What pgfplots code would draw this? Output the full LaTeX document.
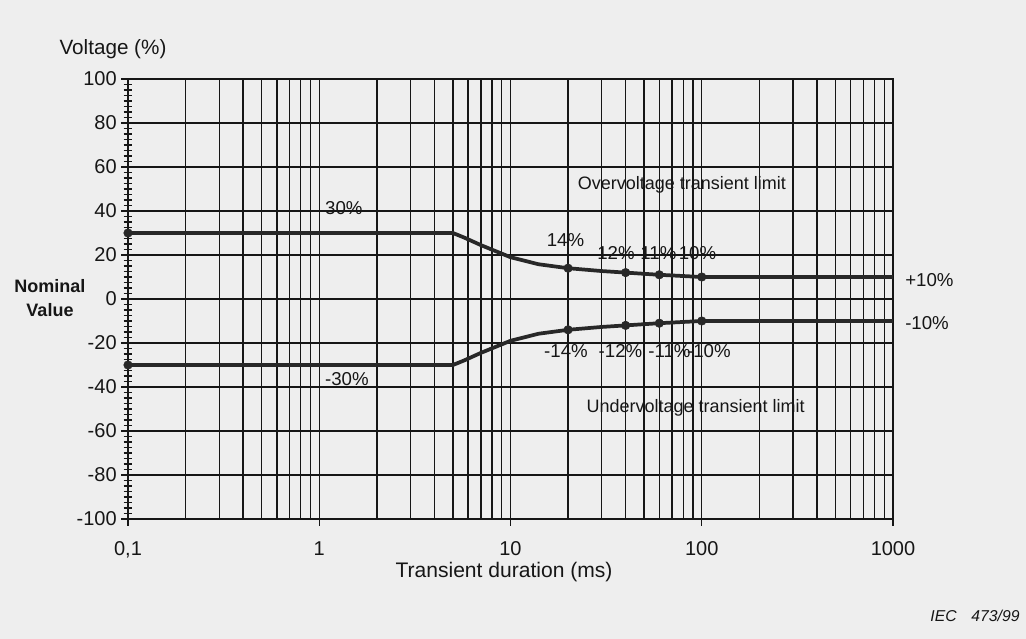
\documentclass[border=0pt]{standalone}
\usepackage{fontspec}
\setmainfont{Liberation Sans}
\usepackage{pgfplots}
\pgfplotsset{compat=1.18}
\definecolor{bg}{RGB}{238,238,238}
\definecolor{ink}{RGB}{22,22,22}
\definecolor{curve}{RGB}{40,40,40}
\begin{document}
\begin{tikzpicture}
\fill[bg] (-96pt,-90pt) rectangle (673.5pt,389.25pt);
\begin{axis}[
  at={(0,0)}, anchor=south west,
  scale only axis, width=573.75pt, height=330pt,
  xmode=log, log basis x=10,
  xmin=0.1, xmax=1000, ymin=-100, ymax=100,
  xtick={0.1,1,10,100,1000},
  xticklabels={{0,1},1,10,100,1000},
  minor xtick={0.2,0.3,0.4,0.5,0.6,0.7,0.8,0.9,2,3,4,5,6,7,8,9,20,30,40,50,60,70,80,90,200,300,400,500,600,700,800,900},
  ytick={-100,-80,-60,-40,-20,0,20,40,60,80,100},
  yticklabels={-100,-80,-60,-40,-20,0,20,40,60,80,100},
  minor y tick num=7,
  xtick pos=bottom, ytick pos=left,
  xmajorgrids, xminorgrids, ymajorgrids,
  grid style={ink, line width=1.05pt},
  minor grid style={ink, line width=1.05pt},
  axis line style={ink, line width=1.1pt},
  tick style={ink, line width=0.9pt},
  tick align=center,
  major tick length=10pt, minor tick length=6.5pt,
  minor x tick style={draw=none},
  ticklabel style={font=\fontsize{15}{18}\selectfont, text=ink},
  xticklabel style={yshift=-8pt, text height=11pt, text depth=0pt},
  clip=false,
]
\addplot[curve, line width=2.8pt, line join=round] coordinates {
  (0.1,30) (5,30) (5.7,28) (7,24.5) (8.5,21.5) (10,19) (14,15.8) (20,14) (30,12.7) (40,12) (60,11) (100,10) (1000,10)};
\addplot[curve, line width=2.8pt, line join=round] coordinates {
  (0.1,-30) (5,-30) (5.7,-28) (7,-24.5) (8.5,-21.5) (10,-19) (14,-15.8) (20,-14) (30,-12.7) (40,-12) (60,-11) (100,-10) (1000,-10)};
\addplot[only marks, mark=*, mark size=3.2pt, curve] coordinates {
  (0.1,30) (20,14) (40,12) (60,11) (100,10)};
\addplot[only marks, mark=*, mark size=3.2pt, curve] coordinates {
  (0.1,-30) (20,-14) (40,-12) (60,-11) (100,-10)};
\begin{scope}[every node/.style={font=\fontsize{14}{16}\selectfont, text=ink, inner sep=0pt}]
\node[anchor=west] at (axis cs:1.07,41.5) {30\%};
\node[anchor=west] at (axis cs:1.07,-36.4) {-30\%};
\node at (axis cs:19.4,27) {14\%};
\node at (axis cs:35.6,20.8) {12\%};
\node at (axis cs:59.4,21) {11\%};
\node at (axis cs:95,21) {10\%};
\node at (axis cs:19.5,-23.5) {-14\%};
\node at (axis cs:37.6,-23.5) {-12\%};
\node at (axis cs:67.8,-23.5) {-11\%};
\node at (axis cs:109,-23.5) {-10\%};
\node[anchor=west, xshift=9pt] at (axis cs:1000,8.5) {+10\%};
\node[anchor=west, xshift=9pt] at (axis cs:1000,-11) {-10\%};
\node[font=\fontsize{13.5}{16}\selectfont] at (axis cs:78.8,51.8) {Overvoltage transient limit};
\node[font=\fontsize{13.5}{16}\selectfont] at (axis cs:92.9,-49.7) {Undervoltage transient limit};
\end{scope}
\end{axis}
\node[font=\fontsize{15.5}{18}\selectfont, text=ink, inner sep=0pt] at (-11.25pt,352.5pt) {Voltage (\%)};
\node[font=\bfseries\fontsize{13.5}{18}\selectfont, text=ink, inner sep=0pt, align=center] at (-58.5pt,165.75pt) {Nominal\\Value};
\node[font=\fontsize{15.8}{18}\selectfont, text=ink, inner sep=0pt] at (282pt,-39.75pt) {Transient duration (ms)};
\node[font=\itshape\fontsize{11.8}{14}\selectfont, text=ink, inner sep=0pt] at (635.25pt,-72.75pt) {IEC\hspace{11pt}473/99};
\end{tikzpicture}
\end{document}
